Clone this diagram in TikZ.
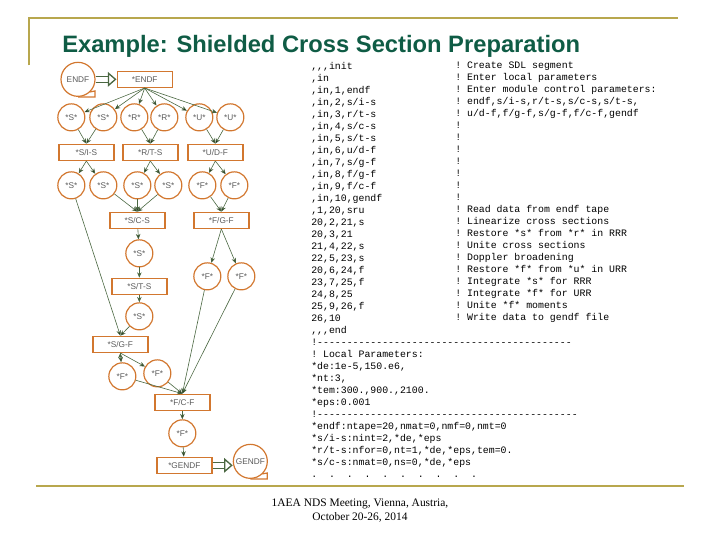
\documentclass[tikz,border=0pt]{standalone}
\usepackage{fontspec}
\setmainfont{Liberation Serif}
\setsansfont{Liberation Sans}
\setmonofont{Liberation Mono}
\usepackage{tikz}
\usetikzlibrary{arrows.meta,positioning}
\definecolor{boxorange}{HTML}{D2772F}
\definecolor{linkgreen}{HTML}{4A6741}
\definecolor{rulegold}{HTML}{B8A74E}
\definecolor{titlegreen}{HTML}{0F5C45}
\definecolor{labelgray}{HTML}{5A5A5A}
\tikzset{
  pool/.style={circle,draw=boxorange,line width=.9pt,minimum size=20.25pt,inner sep=0pt,
    text=labelgray,font=\sffamily\fontsize{6.2}{7}\selectfont},
  tape/.style={pool,minimum size=25.5pt},
  modul/.style={rectangle,draw=boxorange,line width=1pt,minimum width=41.25pt,minimum height=12pt,
    inner sep=0pt,text=labelgray,font=\sffamily\fontsize{6.2}{7}\selectfont},
  tapetail/.style={draw=boxorange,line width=.9pt},
  hollow/.style={draw=linkgreen,line width=1pt,double=white,double distance=3.6pt,
    -{Triangle[open,fill=white,length=6.5pt,width=11pt,line width=1pt]}},
  rulebar/.style={draw=rulegold,line width=1.5pt},
  listing/.style={anchor=north west,inner sep=0pt,align=left,text=black,
    font=\ttfamily\fontsize{7.4}{9}\selectfont}
}
\begin{document}
\begin{tikzpicture}[>={Stealth[length=4pt,width=3.4pt]},node distance=24pt,on grid]
                \useasboundingbox (0,0) rectangle (540pt,-405pt);
                \draw[rulebar] (22pt,-49pt) |- (508.5pt,-13.5pt);
                \draw[rulebar] (27pt,-364.5pt) -- (513pt,-364.5pt);
                \node[anchor=base west,inner sep=0pt,text=titlegreen,font=\sffamily\bfseries\fontsize{17.8}{20}\selectfont] (Title) at (46.5pt,-39pt) {Example: Shielded Cross Section Preparation};

                \node[tape] (ENDF) at (58.5pt,-59.5pt) {ENDF};
                \node[modul] (E_box) [right=50pt of ENDF] {*ENDF};
                \node[pool] (S_1) [below left=28.5pt and 55pt of E_box] {*S*};
                \node[pool] (S_2) [right=24pt of S_1] {*S*};
                \node[pool] (R_1) [right=23.25pt of S_2] {*R*};
                \node[pool] (R_2) [right=22.5pt of R_1] {*R*};
                \node[pool] (U_1) [right=26.25pt of R_2] {*U*};
                \node[pool] (U_2) [right=23.25pt of U_1] {*U*};
                \node[modul] (SI_box) [below right=26.25pt and 11.25pt of S_1] {*S/I-S};
                \node[modul] (RT_box) [below right=26.25pt and 12pt of R_1] {*R/T-S};
                \node[modul] (UD_box) [below right=26.25pt and 12pt of U_1] {*U/D-F};
                \node[pool] (S_3) [below left=24.75pt and 11.25pt of SI_box] {*S*};
                \node[pool] (S_4) [right=24pt of S_3] {*S*};
                \node[pool] (S_5) [below left=24.75pt and 9.75pt of RT_box] {*S*};
                \node[pool] (S_6) [right=23.25pt of S_5] {*S*};
                \node[pool] (F_1) [below left=24.75pt and 9.75pt of UD_box] {*F*};
                \node[pool] (F_2) [right=24pt of F_1] {*F*};
                \node[modul] (SC_box) [below=26.25pt of S_5] {*S/C-S};
                \node[modul] (FG_box) [below right=26.25pt and 14.25pt of F_1] {*F/G-F};
                \node[pool] (S_7) [below right=24.75pt and 1.5pt of SC_box] {*S*};
                \node[modul] (ST_box) [below=24.75pt of S_7] {*S/T-S};
                \node[pool] (S_8) [below=22.5pt of ST_box] {*S*};
                \node[pool] (F_3) [below left=42pt and 10.5pt of FG_box] {*F*};
                \node[pool] (F_4) [right=25.5pt of F_3] {*F*};
                \node[modul] (SG_box) [below left=21pt and 14.25pt of S_8] {*S/G-F};
                \node[pool] (F_5) [below right=24pt and 1.5pt of SG_box] {*F*};
                \node[pool] (F_6) [below right=21.75pt and 27.75pt of SG_box] {*F*};
                \node[modul] (FC_box) [below right=21.75pt and 18.75pt of F_6] {*F/C-F};
                \node[pool] (F_7) [below=23.25pt of FC_box] {*F*};
                \node[modul] (G_box) [below right=24pt and 1.5pt of F_7] {*GENDF};
                \node[tape] (GENDF) [above right=3pt and 49.5pt of G_box] {GENDF};

                \draw[tapetail] (ENDF.south) -- ++(12.75pt,0) -- ++(0,4.5pt) -- ++(-3.75pt,-.75pt);
                \draw[tapetail] (GENDF.south) -- ++(12.75pt,0) -- ++(0,4.5pt) -- ++(-3.75pt,-.75pt);
                \path[hollow] (ENDF) -- (E_box);
                \path[hollow] (G_box) -- (G_box -| GENDF.west);

                \path[->,draw=linkgreen,line width=.45pt]
                (E_box.south) edge (S_1) edge (S_2) edge (R_1) edge (R_2) edge (U_1) edge (U_2)
                (S_1) edge (SI_box.north)
                (S_2) edge (SI_box.north)
                (R_1) edge (RT_box.north)
                (R_2) edge (RT_box.north)
                (U_1) edge (UD_box.north)
                (U_2) edge (UD_box.north)
                (SI_box.south) edge (S_3) edge (S_4)
                (RT_box.south) edge (S_5) edge (S_6)
                (UD_box.south) edge (F_1) edge (F_2)
                (S_4) edge (SC_box.north)
                (S_5) edge (SC_box.north)
                (S_6) edge (SC_box.north)
                (F_1) edge (FG_box.north)
                (F_2) edge (FG_box.north)
                (SC_box) edge (S_7)
                (S_7) edge[line width=1pt] (ST_box)
                (ST_box) edge[line width=1pt] (S_8)
                (S_3) edge (SG_box.north)
                (S_8) edge (SG_box.north)
                (FG_box.south) edge (F_3) edge (F_4)
                (F_3) edge (FC_box.north)
                (F_4) edge (FC_box.north)
                (SG_box.south) edge (F_5) edge (F_6)
                (F_5) edge (FC_box.north)
                (F_6) edge (FC_box.north)
                (FC_box) edge (F_7)
                (F_7) edge (G_box);

                \node[listing] (Code) at (233.25pt,-46.5pt) {,,,init\\
,in\\
,in,1,endf\\
,in,2,s/i-s\\
,in,3,r/t-s\\
,in,4,s/c-s\\
,in,5,s/t-s\\
,in,6,u/d-f\\
,in,7,s/g-f\\
,in,8,f/g-f\\
,in,9,f/c-f\\
,in,10,gendf\\
,1,20,sru\\
20,2,21,s\\
20,3,21\\
21,4,22,s\\
22,5,23,s\\
20,6,24,f\\
23,7,25,f\\
24,8,25\\
25,9,26,f\\
26,10\\
,,,end\\
!-------------------------------------------\\
! Local Parameters:\\
{}*de:1e-5,150.e6,\\
{}*nt:3,\\
{}*tem:300.,900.,2100.\\
{}*eps:0.001\\
!--------------------------------------------\\
{}*endf:ntape=20,nmat=0,nmf=0,nmt=0\\
{}*s/i-s:nint=2,*de,*eps\\
{}*r/t-s:nfor=0,nt=1,*de,*eps,tem=0.\\
{}*s/c-s:nmat=0,ns=0,*de,*eps\\
.\ \ .\ \ .\ \ .\ \ .\ \ .\ \ .\ \ .\ \ .\ \ .};
                \node[listing] (Notes) [right=108pt of Code.north west,anchor=north west] {! Create SDL segment\\
! Enter local parameters\\
! Enter module control parameters:\\
! endf,s/i-s,r/t-s,s/c-s,s/t-s,\\
! u/d-f,f/g-f,s/g-f,f/c-f,gendf\\
!\\
!\\
!\\
!\\
!\\
!\\
!\\
! Read data from endf tape\\
! Linearize cross sections\\
! Restore *s* from *r* in RRR\\
! Unite cross sections\\
! Doppler broadening\\
! Restore *f* from *u* in URR\\
! Integrate *s* for RRR\\
! Integrate *f* for URR\\
! Unite *f* moments\\
! Write data to gendf file};
                \node[align=center,inner sep=0pt,font=\rmfamily\fontsize{8.6}{10.5}\selectfont] (Footer) at (270pt,-383.25pt) {1AEA NDS Meeting, Vienna, Austria,\\October 20-26, 2014};
            \end{tikzpicture}
\end{document}
